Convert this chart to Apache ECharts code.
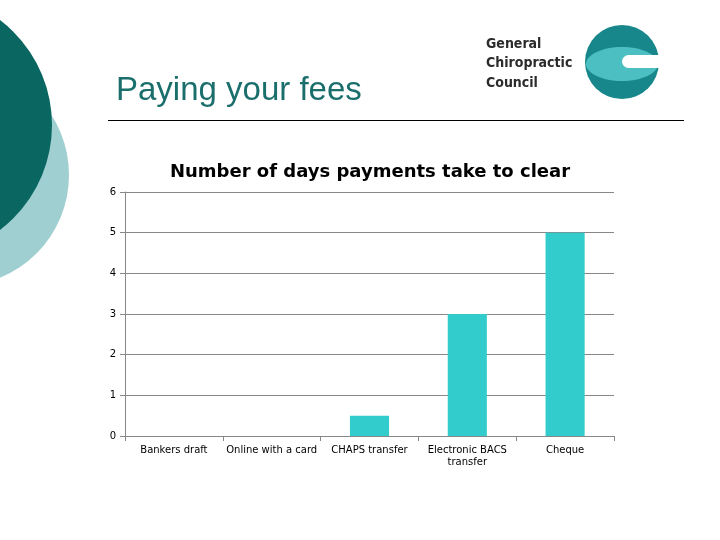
<!DOCTYPE html>
<html><head><meta charset="utf-8">
<script src="https://cdn.jsdelivr.net/npm/echarts@6/dist/echarts.min.js"></script>
<style>html,body{margin:0;padding:0;background:#fff;}#c{width:720px;height:540px;}</style>
</head><body><div id="c"></div>
<script>
const categories = ['Bankers draft', 'Online with a card', 'CHAPS transfer', 'Electronic BACS\ntransfer', 'Cheque'];
const days = [0, 0, 0.5, 3, 5];
const yTicks = [0, 1, 2, 3, 4, 5, 6];

const chart = echarts.init(document.getElementById('c'), null, {renderer: 'canvas'});
chart.setOption({
  animation: false,
  backgroundColor: '#ffffff',
  title: {
    text: 'Number of days payments take to clear',
    left: 365, top: 158, textAlign: 'center',
    textStyle: {fontFamily: 'DejaVu Sans', fontWeight: 'bold', fontSize: 18, color: '#000'}
  },
  graphic: [
    {type: 'circle', shape: {cx: -42, cy: 175, r: 111}, style: {fill: '#9fcfd1'}, z: 1},
    {type: 'circle', shape: {cx: -80, cy: 125, r: 132}, style: {fill: '#0a6661'}, z: 2},
    {type: 'text', x: 116, y: 91, style: {text: 'Paying your fees', fontFamily: 'Liberation Sans', fontSize: 33, fill: '#1a6f6c', textVerticalAlign: 'middle'}, z: 3},
    {type: 'line', shape: {x1: 108, y1: 120.5, x2: 684, y2: 120.5}, style: {stroke: '#000', lineWidth: 1}, z: 3},
    {type: 'text', x: 486, y: 44, style: {text: 'General', fontFamily: 'DejaVu Sans Condensed', fontWeight: 'bold', fontSize: 14, fill: '#2b2b2b', textVerticalAlign: 'middle'}, z: 3},
    {type: 'text', x: 486, y: 63, style: {text: 'Chiropractic', fontFamily: 'DejaVu Sans Condensed', fontWeight: 'bold', fontSize: 14, fill: '#2b2b2b', textVerticalAlign: 'middle'}, z: 3},
    {type: 'text', x: 486, y: 83, style: {text: 'Council', fontFamily: 'DejaVu Sans Condensed', fontWeight: 'bold', fontSize: 14, fill: '#2b2b2b', textVerticalAlign: 'middle'}, z: 3},
    {type: 'circle', shape: {cx: 622, cy: 62, r: 37}, style: {fill: '#17878b'}, z: 3},
    {type: 'ellipse', shape: {cx: 622, cy: 64, rx: 36, ry: 17}, style: {fill: '#4cbfc3'}, z: 4},
    {type: 'rect', shape: {x: 622, y: 55, width: 37, height: 13, r: [6.5, 0, 0, 6.5]}, style: {fill: '#ffffff'}, z: 5}
  ],
  grid: {left: 125, right: 106, top: 192, bottom: 104, containLabel: false},
  xAxis: {
    type: 'category', data: categories,
    axisLine: {lineStyle: {color: '#888888', width: 1}},
    axisTick: {show: true, length: 5, lineStyle: {color: '#888888'}},
    axisLabel: {fontFamily: 'DejaVu Sans', fontSize: 10, color: '#000', margin: 8, interval: 0, lineHeight: 12}
  },
  yAxis: {
    type: 'value', min: 0, max: 6, interval: 1,
    axisLine: {show: true, lineStyle: {color: '#888888', width: 1}},
    axisTick: {show: true, length: 5, lineStyle: {color: '#888888'}},
    splitLine: {lineStyle: {color: '#888888', width: 1}},
    axisLabel: {fontFamily: 'DejaVu Sans', fontSize: 10, color: '#000', margin: 9,
      formatter: v => yTicks.includes(v) ? String(v) : ''}
  },
  series: [{
    type: 'bar', data: days, barWidth: '40%',
    itemStyle: {color: '#33cccc'}
  }]
});
</script></body></html>
